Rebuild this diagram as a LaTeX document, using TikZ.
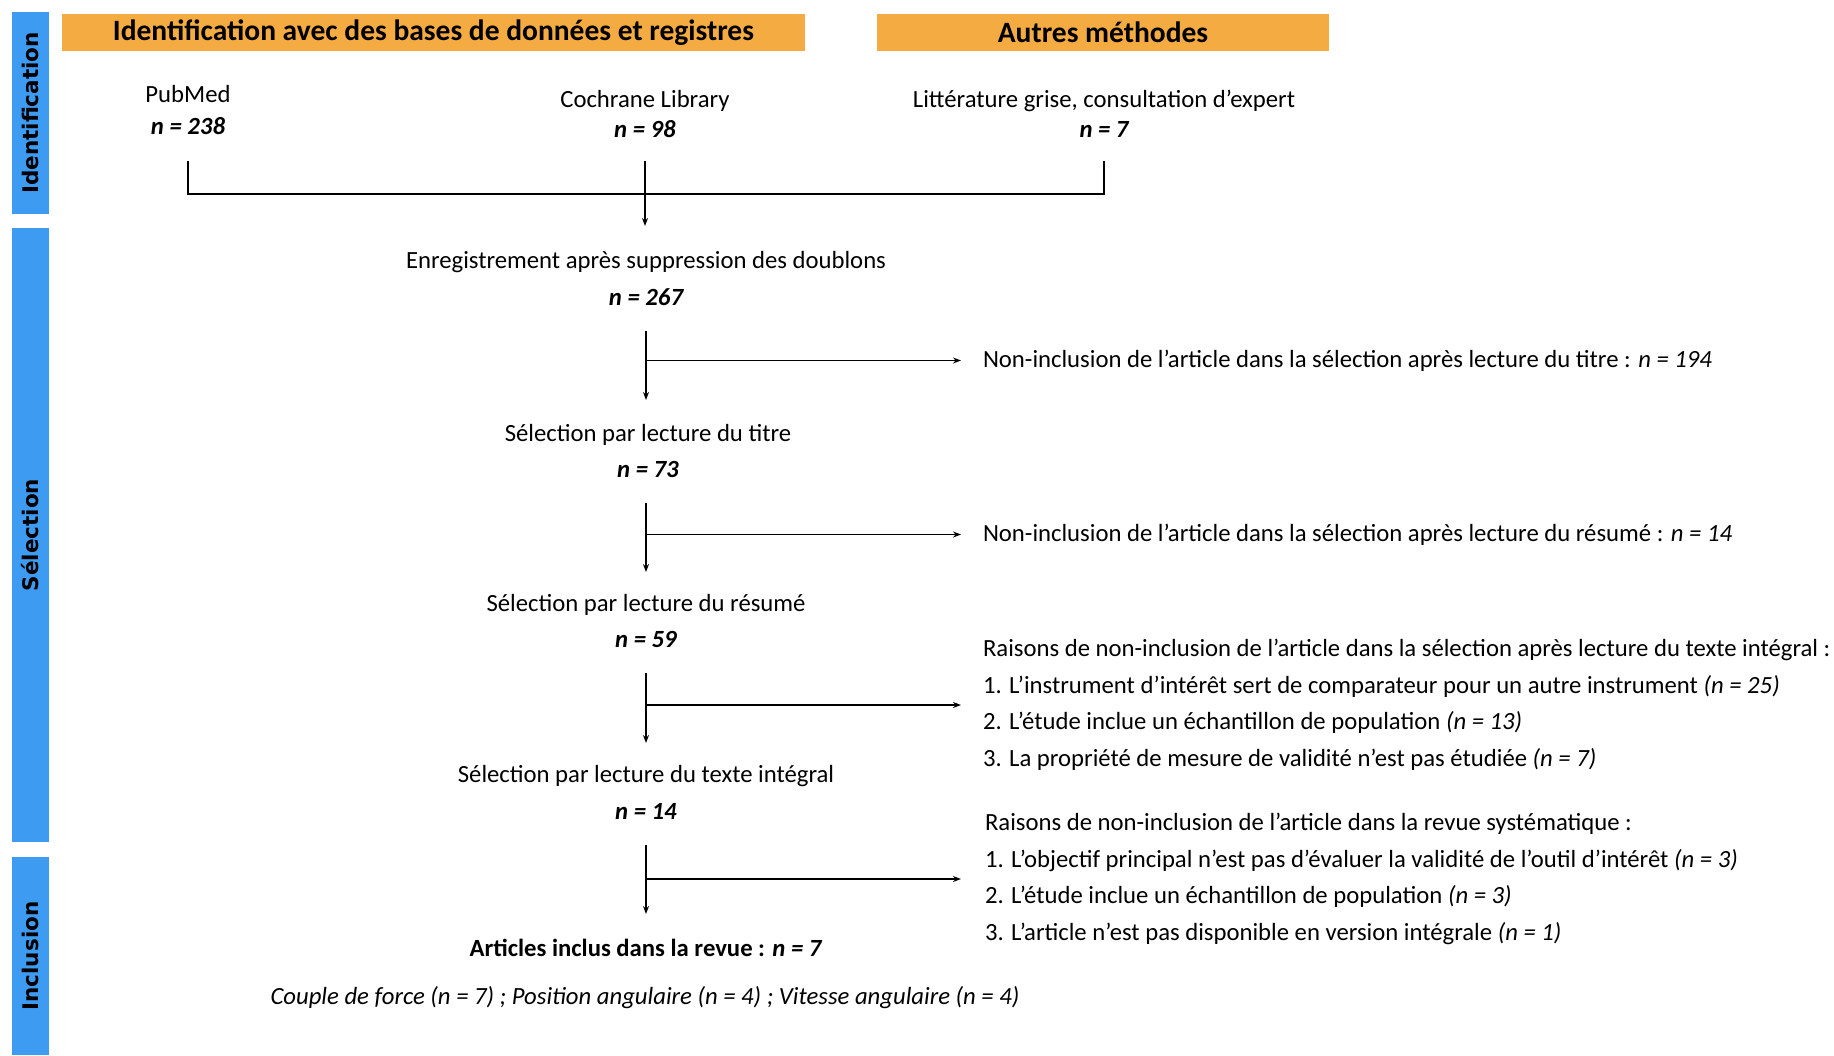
\documentclass[tikz,border=0pt]{standalone}
\usepackage{fontspec}
\setmainfont{Carlito}
\newfontfamily\sidefont{DejaVu Sans}
\usetikzlibrary{arrows.meta,calc}
\definecolor{sidebar}{RGB}{62,155,242}
\definecolor{headbar}{RGB}{244,172,66}
\begin{document}
\begin{tikzpicture}[x=1pt,y=-1pt,
  every node/.style={inner sep=0pt, outer sep=0pt},
  txt/.style={font=\fontsize{24.7}{29}\selectfont},
  num/.style={font=\fontsize{24.7}{29}\selectfont\bfseries\itshape},
  side/.style={fill=sidebar, rotate=90, text=black, font=\sidefont\bfseries\fontsize{21.5}{24}\selectfont},
  head/.style={fill=headbar, minimum height=37pt, font=\fontsize{29.5}{32}\selectfont\bfseries},
  list/.style={font=\fontsize{24.7}{36.5}\selectfont, align=left, anchor=west},
  conn/.style={line width=1.4pt},
  arr/.style={conn, -{Stealth[length=8pt,width=6pt]}},
  ]
\fill[white] (0,0) rectangle (1834,1055);
\useasboundingbox (0,0) rectangle (1834,1055);

% side bars
\node[side, minimum width=202pt, minimum height=37pt] (bid) at (30.5,113) {Identification};
\node[side, minimum width=614pt, minimum height=37pt] (bsel) at (30.5,535) {Sélection};
\node[side, minimum width=198pt, minimum height=37pt] (binc) at (30.5,956) {Inclusion};

% headers
\node[head, minimum width=743pt] (h1) at (433.5,32.5) {Identification avec des bases de données et registres};
\node[head, minimum width=452pt] (h2) at (1103,32.5) {Autres méthodes};

% sources
\node[txt] (pub) at (188,94) {PubMed};
\node[num] (pubn) at (188,126) {n = 238};
\node[txt] (coc) at (645,100.5) {Cochrane Library};
\node[num] (cocn) at (645,129) {n = 98};
\node[txt] (lit) at (1104,100.5) {Littérature grise, consultation d’expert};
\node[num] (litn) at (1104,129) {n = 7};

% main column
\node[txt] (enr) at (646,262.5) {Enregistrement après suppression des doublons};
\node[num] (enrn) at (646,297) {n = 267};
\node[txt] (tit) at (648,434.5) {Sélection par lecture du titre};
\node[num] (titn) at (648,469) {n = 73};
\node[txt] (res) at (646,604.5) {Sélection par lecture du résumé};
\node[num] (resn) at (646,639.5) {n = 59};
\node[txt] (int) at (646,776.5) {Sélection par lecture du texte intégral};
\node[num] (intn) at (646,811) {n = 14};
\node[txt, font=\fontsize{24.7}{29}\selectfont\bfseries] (art) at (646,947.5) {Articles inclus dans la revue : \textit{n = 7}};
\node[txt, font=\fontsize{24.7}{29}\selectfont\itshape] (cpl) at (645,997.5) {Couple de force (n = 7) ; Position angulaire (n = 4) ; Vitesse angulaire (n = 4)};

% exclusions
\node[list] (ex1) at (983,360.5) {Non-inclusion de l’article dans la sélection après lecture du titre : \textit{n = 194}};
\node[list] (ex2) at (983,534.5) {Non-inclusion de l’article dans la sélection après lecture du résumé : \textit{n = 14}};
\node[list] (ex3) at (983,705) {Raisons de non-inclusion de l’article dans la sélection après lecture du texte intégral :\\
1. L’instrument d’intérêt sert de comparateur pour un autre instrument \textit{(n = 25)}\\
2. L’étude inclue un échantillon de population \textit{(n = 13)}\\
3. La propriété de mesure de validité n’est pas étudiée \textit{(n = 7)}};
\node[list] (ex4) at (985,879) {Raisons de non-inclusion de l’article dans la revue systématique :\\
1. L’objectif principal n’est pas d’évaluer la validité de l’outil d’intérêt \textit{(n = 3)}\\
2. L’étude inclue un échantillon de population \textit{(n = 3)}\\
3. L’article n’est pas disponible en version intégrale \textit{(n = 1)}};

% top merge
\draw[conn] ($(pubn)+(0,35)$) -- ($(pubn)+(0,68)$) -| ($(litn)+(0,32)$);
\draw[arr] ($(cocn)+(0,32)$) -- ($(cocn |- enr)+(0,-36.5)$);

% main arrows
\draw[arr] ($(enrn)+(0,34)$) -- ($(enrn |- tit)+(0,-34.5)$);
\draw[arr] ($(enrn |- titn)+(0,34)$) -- ($(enrn |- res)+(0,-32.5)$);
\draw[arr] ($(resn)+(0,33.5)$) -- ($(resn |- int)+(0,-33.5)$);
\draw[arr] ($(intn)+(0,34)$) -- ($(intn |- art)+(0,-33.5)$);

% branches
\draw[arr] (ex1.west -| enrn) -- ($(ex1.west)+(-22,0)$);
\draw[arr] (ex2.west -| enrn) -- ($(ex2.west)+(-22,0)$);
\draw[arr] (ex3.west -| resn) -- ($(ex3.west)+(-22,0)$);
\draw[arr] (ex4.west -| intn) -- ($(ex4.west)+(-24,0)$);
\end{tikzpicture}
\end{document}
